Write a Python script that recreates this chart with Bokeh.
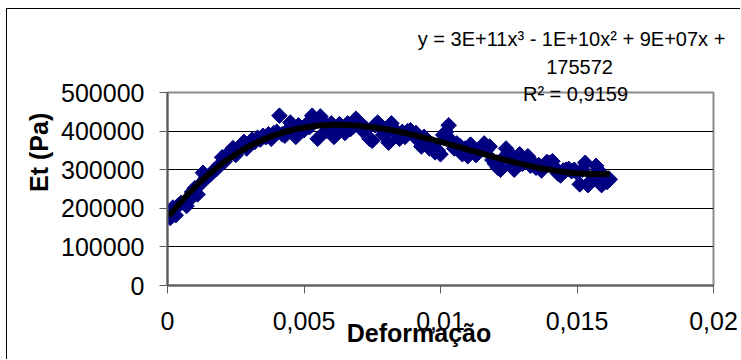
import numpy as np
from bokeh.plotting import figure
from bokeh.models import Range1d, FixedTicker, Label
from bokeh.embed import file_html
from bokeh.resources import INLINE

# ---- data ----
deformacao = [
    0.0001, 0.0002, 0.0003, 0.0004, 0.0005, 0.0007, 0.0008, 0.0009, 0.0010, 0.0011,
    0.0012, 0.0013, 0.0014, 0.0015, 0.0016, 0.0017, 0.0018, 0.0019, 0.0020, 0.0021,
    0.0022, 0.0023, 0.0024, 0.0025, 0.0026, 0.0027, 0.0028, 0.0029, 0.0030, 0.0031,
    0.0032, 0.0033, 0.0034, 0.0035, 0.0036, 0.0037, 0.0038, 0.0039, 0.0040, 0.0041,
    0.0042, 0.0043, 0.0044, 0.0045, 0.0046, 0.0047, 0.0048, 0.0049, 0.0050, 0.0051,
    0.0052, 0.0053, 0.0054, 0.0055, 0.0056, 0.0057, 0.0058, 0.0059, 0.0060, 0.0061,
    0.0062, 0.0063, 0.0064, 0.0065, 0.0066, 0.0067, 0.0068, 0.0069, 0.0070, 0.0071,
    0.0072, 0.0073, 0.0074, 0.0075, 0.0076, 0.0077, 0.0078, 0.0079, 0.0080, 0.0081,
    0.0082, 0.0083, 0.0084, 0.0085, 0.0086, 0.0087, 0.0088, 0.0089, 0.0090, 0.0091,
    0.0092, 0.0093, 0.0094, 0.0095, 0.0096, 0.0097, 0.0098, 0.0099, 0.0100, 0.0101,
    0.0102, 0.0103, 0.0104, 0.0105, 0.0106, 0.0107, 0.0108, 0.0109, 0.0110, 0.0111,
    0.0112, 0.0113, 0.0114, 0.0115, 0.0116, 0.0117, 0.0118, 0.0119, 0.0120, 0.0121,
    0.0122, 0.0123, 0.0124, 0.0125, 0.0126, 0.0127, 0.0128, 0.0129, 0.0130, 0.0131,
    0.0132, 0.0133, 0.0134, 0.0135, 0.0136, 0.0137, 0.0138, 0.0139, 0.0140, 0.0141,
    0.0142, 0.0143, 0.0144, 0.0145, 0.0146, 0.0147, 0.0148, 0.0149, 0.0150, 0.0151,
    0.0152, 0.0153, 0.0154, 0.0155, 0.0156, 0.0157, 0.0158, 0.0159, 0.0160, 0.0161,
    0.0162,
]
et_pa = [
    175000, 202000, 182000, 208000, 214000, 206000, 222000, 242000, 252000, 236000,
    262000, 292000, 278000, 283000, 290000, 298000, 302000, 312000, 332000, 322000,
    338000, 348000, 356000, 338000, 352000, 365000, 372000, 355000, 368000, 378000,
    372000, 383000, 378000, 388000, 384000, 392000, 380000, 395000, 398000, 440000,
    392000, 388000, 402000, 422000, 400000, 385000, 415000, 408000, 402000, 418000,
    410000, 440000, 430000, 380000, 438000, 425000, 400000, 412000, 420000, 385000,
    400000, 418000, 410000, 395000, 420000, 405000, 412000, 432000, 425000, 410000,
    398000, 405000, 380000, 375000, 415000, 422000, 408000, 390000, 400000, 370000,
    420000, 405000, 392000, 380000, 398000, 385000, 400000, 402000, 390000, 395000,
    375000, 360000, 385000, 372000, 355000, 365000, 345000, 350000, 340000, 390000,
    398000, 415000, 375000, 355000, 368000, 362000, 340000, 355000, 335000, 365000,
    350000, 338000, 345000, 358000, 368000, 352000, 360000, 325000, 315000, 305000,
    300000, 330000, 355000, 345000, 308000, 300000, 330000, 340000, 315000, 325000,
    335000, 310000, 318000, 305000, 312000, 298000, 310000, 320000, 318000, 322000,
    305000, 290000, 285000, 298000, 300000, 302000, 296000, 300000, 292000, 262000,
    300000, 318000, 260000, 270000, 282000, 310000, 298000, 260000, 278000, 268000,
    275000,
]
x_ticks = [0, 0.005, 0.01, 0.015, 0.02]
x_tick_labels = ["0", "0,005", "0,01", "0,015", "0,02"]
y_ticks = [0, 100000, 200000, 300000, 400000, 500000]
y_tick_labels = ["0", "100000", "200000", "300000", "400000", "500000"]
equation_lines = ["y = 3E+11x³ - 1E+10x² + 9E+07x +", "175572", "R² = 0,9159"]
x_title = "Deformação"
y_title = "Et (Pa)"

FONT = "Liberation Sans"

p = figure(width=734, height=351, output_backend="svg", toolbar_location=None,
           x_range=Range1d(0, 0.02), y_range=Range1d(0, 500000),
           min_border_left=160, min_border_right=28, min_border_top=83,
           min_border_bottom=75, background_fill_color="white",
           border_fill_color="white")
p.margin = (8, 0, 0, 6)
p.styles = {"border-left": "1px solid black", "border-top": "1px solid black"}

p.outline_line_color = "#8c8c8c"
p.outline_line_width = 2

# axes
for ax in (p.xaxis[0], p.yaxis[0]):
    ax.axis_line_color = "#5a5a5a"
    ax.axis_line_width = 2
    ax.major_tick_line_color = "#5a5a5a"
    ax.major_tick_line_width = 1
    ax.major_tick_in = 0
    ax.major_tick_out = 8
    ax.minor_tick_line_color = None
    ax.major_label_text_font = FONT
    ax.major_label_text_font_size = "25px"
    ax.major_label_text_color = "black"

p.xaxis.ticker = FixedTicker(ticks=x_ticks)
p.xaxis.major_label_overrides = {t: s for t, s in zip(x_ticks, x_tick_labels)}
p.xaxis.major_label_standoff = 18
p.yaxis.ticker = FixedTicker(ticks=y_ticks)
p.yaxis.major_label_overrides = {t: s for t, s in zip(y_ticks, y_tick_labels)}
p.yaxis.major_label_standoff = 15

p.xgrid.visible = False
p.ygrid.ticker = FixedTicker(ticks=y_ticks)
p.ygrid.grid_line_color = "black"
p.ygrid.grid_line_width = 1

# scatter points (diamonds)
p.scatter(deformacao, et_pa, marker="square", angle=np.pi / 4, size=11,
          fill_color="#000080", line_color="#000080")

# polynomial trendline (order 3) fitted to the data
coef = np.polyfit(deformacao, et_pa, 3)
xs = np.linspace(0.00005, max(deformacao), 200)
p.line(xs, np.polyval(coef, xs), line_color="black", line_width=6)

# equation text (in the top panel so nothing is clipped by the frame)
eq_x = [0.014799, 0.015092, 0.014945]
eq_off = [53.5, 25.5, -1.5]
for txt, xx, off in zip(equation_lines, eq_x, eq_off):
    p.add_layout(Label(x=xx, y=500000, y_offset=off, text=txt, text_align="center",
                       text_baseline="alphabetic", text_font=FONT,
                       text_font_size="20px", text_color="black"), "above")

# axis titles
p.add_layout(Label(x=0.009212, y=0, y_offset=-47, text=x_title, text_align="center",
                   text_baseline="alphabetic", text_font=FONT,
                   text_font_size="25px", text_font_style="bold", text_color="black"),
             "below")
p.add_layout(Label(x=-0.00471, y=345000, angle=np.pi / 2, text=y_title,
                   text_align="center", text_baseline="alphabetic",
                   text_font=FONT, text_font_size="25px",
                   text_font_style="bold", text_color="black"), "left")

open("out.html", "w").write(file_html(p, INLINE))
